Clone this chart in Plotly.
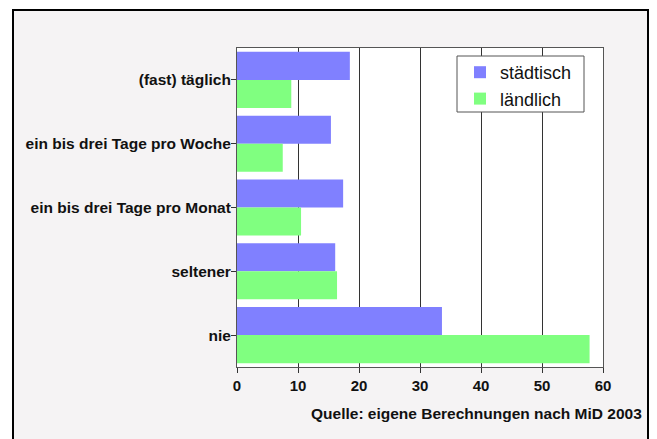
import plotly.graph_objects as go

categories = ["(fast) täglich", "ein bis drei Tage pro Woche", "ein bis drei Tage pro Monat", "seltener", "nie"]
staedtisch = [18.5, 15.4, 17.4, 16.1, 33.6]
laendlich = [8.9, 7.5, 10.5, 16.4, 57.8]
x_ticks = [0, 10, 20, 30, 40, 50, 60]
source = "Quelle: eigene Berechnungen nach MiD 2003"

# page body has an 8px margin; work in window coords and subtract it
OFF = 8
W, H = 657 - OFF, 439 - OFF
px0, px1, py0, py1 = 237, 603, 48, 367  # plot area in window coords
L, R, T, B = px0 - OFF, W - (px1 - OFF), py0 - OFF, H - (py1 - OFF)
pw, ph = W - L - R, H - T - B

def fx(x):
    return (x - px0) / pw

def fy(y):
    return (py1 - y) / ph

FONT = "Liberation Sans, Arial, sans-serif"

fig = go.Figure()
fig.add_trace(go.Bar(y=categories, x=staedtisch, orientation="h", name="städtisch",
                     marker=dict(color="#8080ff", line=dict(width=0))))
fig.add_trace(go.Bar(y=categories, x=laendlich, orientation="h", name="ländlich",
                     marker=dict(color="#80ff80", line=dict(width=0))))

fig.update_layout(
    width=W, height=H,
    margin=dict(l=L, r=R, t=T, b=B, pad=0),
    paper_bgcolor="white", plot_bgcolor="white",
    barmode="group", bargap=0.12, bargroupgap=0,
    font=dict(family=FONT, color="#111"),
    legend=dict(x=fx(460), y=fy(54), xanchor="left", yanchor="top",
                bgcolor="rgba(0,0,0,0)", borderwidth=0, itemwidth=30,
                font=dict(size=18, color="#111", family=FONT), tracegroupgap=0,
                traceorder="normal"),
    xaxis=dict(range=[0, 60], tickvals=x_ticks, showgrid=True, gridcolor="#333", gridwidth=1,
               ticks="outside", ticklen=5, tickcolor="#333", showline=True, linecolor="#555",
               linewidth=1, mirror=True, zeroline=False,
               tickfont=dict(size=15, family=FONT, weight="bold")),
    yaxis=dict(autorange="reversed", ticks="outside", ticklen=5, tickcolor="#333",
               showline=True, linecolor="#555", linewidth=1, mirror=True, showgrid=False,
               ticklabelstandoff=-3,
               tickfont=dict(size=15.5, family=FONT, weight="bold")),
    annotations=[dict(text=source, xref="paper", yref="paper", x=fx(644),
                      y=fy(413), xanchor="right", yanchor="middle", showarrow=False,
                      font=dict(size=15.5, family=FONT, weight="bold", color="#111"))],
    shapes=[
        dict(type="rect", xref="paper", yref="paper",
             x0=fx(13), x1=fx(648), y0=fy(460), y1=fy(10),
             line=dict(color="black", width=2), fillcolor="#f5f3f4", layer="below"),
        dict(type="rect", xref="paper", yref="paper", x0=0, x1=1, y0=0, y1=1,
             line=dict(width=0), fillcolor="white", layer="below"),
        dict(type="rect", xref="paper", yref="paper",
             x0=fx(457), x1=fx(584), y0=fy(112), y1=fy(56),
             line=dict(color="#555", width=1), fillcolor="white", layer="above"),
    ],
)

fig.write_html("out.html")
